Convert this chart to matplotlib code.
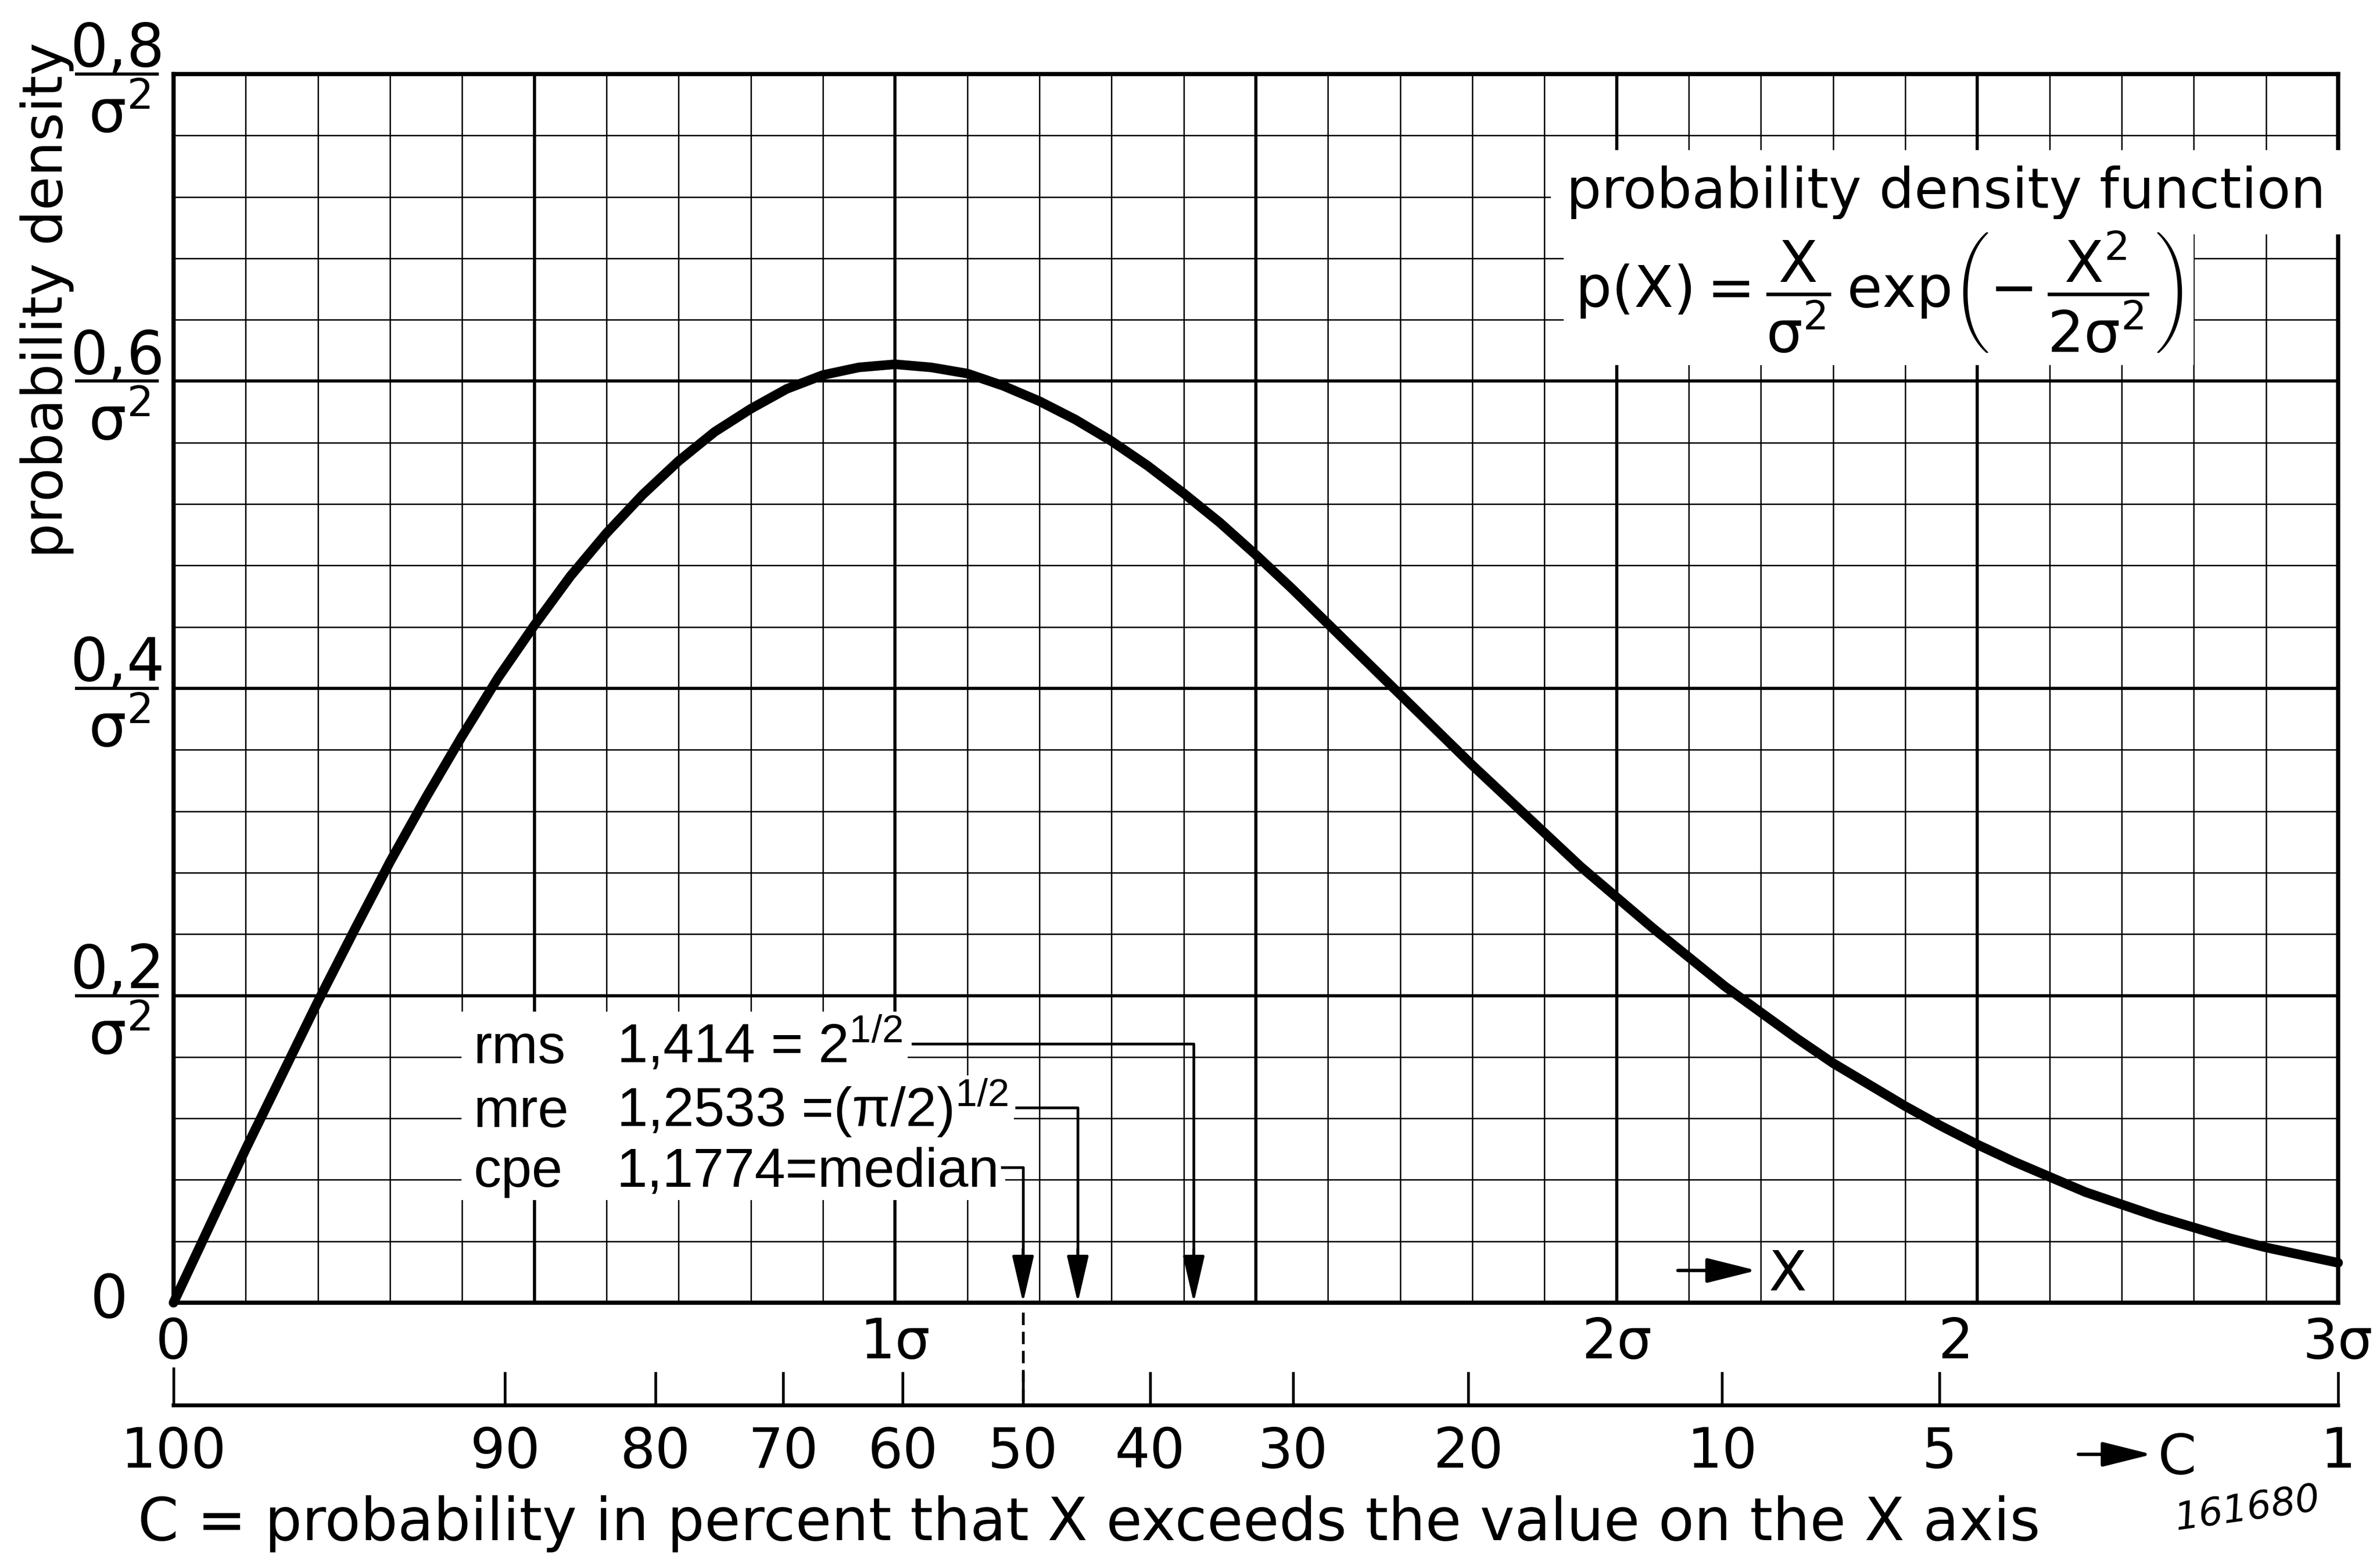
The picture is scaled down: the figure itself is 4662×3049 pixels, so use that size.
import numpy as np
import matplotlib.pyplot as plt
from matplotlib.patches import Rectangle
from matplotlib.transforms import blended_transform_factory

plt.rcParams['font.family'] = 'DejaVu Sans'
plt.rcParams['mathtext.fontset'] = 'custom'
plt.rcParams['mathtext.rm'] = 'Liberation Sans'
plt.rcParams['mathtext.default'] = 'regular'

# density curve p(X), read at 0.05 sigma steps
x_sigma = np.linspace(0, 3, 61)
p_density = [0.000, 0.050, 0.100, 0.148, 0.196, 0.242, 0.287, 0.329, 0.369, 0.407,
             0.441, 0.473, 0.501, 0.526, 0.548, 0.567, 0.582, 0.595, 0.604, 0.609,
             0.611, 0.609, 0.605, 0.597, 0.587, 0.575, 0.561, 0.545, 0.527, 0.508,
             0.487, 0.465, 0.442, 0.419, 0.396, 0.373, 0.350, 0.328, 0.306, 0.284,
             0.264, 0.244, 0.225, 0.206, 0.189, 0.172, 0.156, 0.142, 0.128, 0.115,
             0.103, 0.092, 0.082, 0.072, 0.064, 0.056, 0.049, 0.042, 0.036, 0.031,
             0.026]

# labels on the X axis (in sigma)
sigma_ticks = [0, 1, 2, 2.47, 3]
sigma_labels = ['0', '1σ', '2σ', '2', '3σ']

# density labels, written as fractions over sigma squared
dens_ticks = [0.2, 0.4, 0.6, 0.8]
dens_labels = ['0,2', '0,4', '0,6', '0,8']

# C scale: percent probability that X is exceeded
c_percent = [100, 90, 80, 70, 60, 50, 40, 30, 20, 10, 5, 1]

# characteristic values rms, mre, cpe (median)
marks = [1.414, 1.2533, 1.1774]
mark_names = ['rms', 'mre', 'cpe']
mark_values = ['1,414 = 2$^{1/2}$', '1,2533 =(π/2)$^{1/2}$', '1,1774=median']

FS = 26
NUMFONT = 'Liberation Sans'

fig = plt.figure(figsize=(4662 / 300, 3049.2 / 300), dpi=300)
ax = fig.add_axes([0.0729, 0.1633, 0.9095, 0.7891])
ax.set_xlim(0, 3)
ax.set_ylim(0, 0.8)

# graph paper grid
ax.set_xticks(np.arange(0, 3.01, 0.5))
ax.set_xticks(np.arange(0, 3.01, 0.1), minor=True)
ax.set_yticks(np.arange(0, 0.81, 0.2))
ax.set_yticks(np.arange(0, 0.81, 0.04), minor=True)
ax.tick_params(which='both', length=0, labelbottom=False, labelleft=False)
ax.grid(which='major', color='black', lw=1.5)
ax.grid(which='minor', color='black', lw=0.65)
ax.set_axisbelow(True)
for s in ax.spines.values():
    s.set_linewidth(2.0)

ax.plot(x_sigma, p_density, color='black', lw=4.5, solid_capstyle='round',
        solid_joinstyle='round', zorder=4, clip_on=False)

tx = blended_transform_factory(ax.transData, ax.transAxes)
ty = blended_transform_factory(ax.transAxes, ax.transData)

# sigma labels under the axis
for xv, lab in zip(sigma_ticks, sigma_labels):
    ax.text(xv, -0.0453, lab, transform=tx, ha='center', va='baseline', fontsize=FS)

# second scale for C
c_pos = np.minimum(np.sqrt(np.abs(-2 * np.log(np.array(c_percent) / 100))), 3.0)
c_y = -0.0835
ax.plot([0, 3], [c_y, c_y], transform=tx, color='black', lw=1.8, clip_on=False,
        solid_capstyle='projecting')
for cp, cv in zip(c_pos, c_percent):
    tick_top = c_y + (0.03 if cv == 100 else 0.026)
    ax.plot([cp, cp], [c_y, tick_top], transform=tx, color='black', lw=1.3, clip_on=False)
    ax.text(cp, -0.1342, str(cv), transform=tx, ha='center', va='baseline', fontsize=FS)

# dashed link from the median to C = 50
ax.plot([marks[2], marks[2]], [-0.008, c_y], transform=tx, color='black', lw=1.3,
        ls=(0, (4.5, 2.4)), clip_on=False)

# density labels as fractions
for yv, lab in zip(dens_ticks, dens_labels):
    ax.plot([-0.0448, -0.0075], [yv, yv], transform=ty, color='black', lw=1.5, clip_on=False)
    ax.text(-0.026, yv + 0.005, lab, transform=ty, ha='center', va='baseline', fontsize=28)
    ax.text(-0.025, yv - 0.008, r'$\sigma^2$', transform=ty, ha='center', va='top', fontsize=28)
ax.text(-0.0297, -0.0097, '0', transform=ty, ha='center', va='baseline', fontsize=28)

ax.text(-0.0585, 0.816, 'probability density', transform=ax.transAxes, rotation=90,
        ha='center', va='center', fontsize=FS)

# rms / mre / cpe with leaders down to the axis
row_y = [0.156, 0.1145, 0.0755]
gaps = [0.015, 0.012, 0.004]
renderer = fig.canvas.get_renderer()
head = dict(arrowstyle='-|>,head_length=0.95,head_width=0.22', color='black', lw=1.3,
            shrinkA=0, shrinkB=0, mutation_scale=20)
for xv, name, val, ry, gap in zip(marks, mark_names, mark_values, row_y, gaps):
    ax.text(0.416, ry, name, ha='left', va='baseline', fontsize=FS, family=NUMFONT, zorder=3)
    t = ax.text(0.614, ry, val, ha='left', va='baseline', fontsize=FS, family=NUMFONT, zorder=3)
    bb = t.get_window_extent(renderer)
    x_end = ax.transData.inverted().transform((bb.x1, bb.y0))[0]
    # white ground under the row so the grid does not run through the text
    ax.add_patch(Rectangle((0.399, ry - 0.0085), x_end + 0.008 - 0.399, 0.042,
                           facecolor='white', edgecolor='none', zorder=2.5))
    ly = ry + 0.0125
    ax.plot([x_end + gap, xv, xv], [ly, ly, 0.03], color='black', lw=1.3,
            solid_joinstyle='round', zorder=3)
    ax.annotate('', xy=(xv, 0), xytext=(xv, 0.035), arrowprops=head, zorder=3)

# function text, top right
ax.text(1.930, 0.713, 'probability density function', ha='left', va='baseline',
        fontsize=FS, zorder=3, bbox=dict(fc='white', ec='none', pad=7))
ax.text(1.942, 0.658,
        r'$p(X) = \dfrac{X}{\sigma^2}\,exp\left(-\,\dfrac{X^2}{2\sigma^2}\right)$',
        ha='left', va='center', fontsize=FS + 1, zorder=3,
        bbox=dict(fc='white', ec='none', pad=5))

# direction arrows for X and C
arr = dict(head, lw=1.6, arrowstyle='-|>,head_length=1.0,head_width=0.25')
ax.annotate('', xy=(2.194, 0.021), xytext=(2.085, 0.021), arrowprops=arr)
ax.text(2.237, 0.008, 'X', ha='center', va='baseline', fontsize=FS)
ax.annotate('', xy=(2.742, -0.1234), xycoords=tx, xytext=(2.640, -0.1234), textcoords=tx,
            arrowprops=arr, annotation_clip=False)
ax.text(2.777, -0.139, 'C', transform=tx, ha='center', va='baseline', fontsize=FS)

ax.text(-0.0165, -0.193, 'C = probability in percent that X exceeds the value on the X axis',
        transform=ax.transAxes, ha='left', va='baseline', fontsize=27.5)
ax.text(0.958, -0.168, '161680', transform=ax.transAxes, ha='center', va='center',
        fontsize=18, style='italic', rotation=8)

fig.savefig('out.png', dpi=300, facecolor='white')
